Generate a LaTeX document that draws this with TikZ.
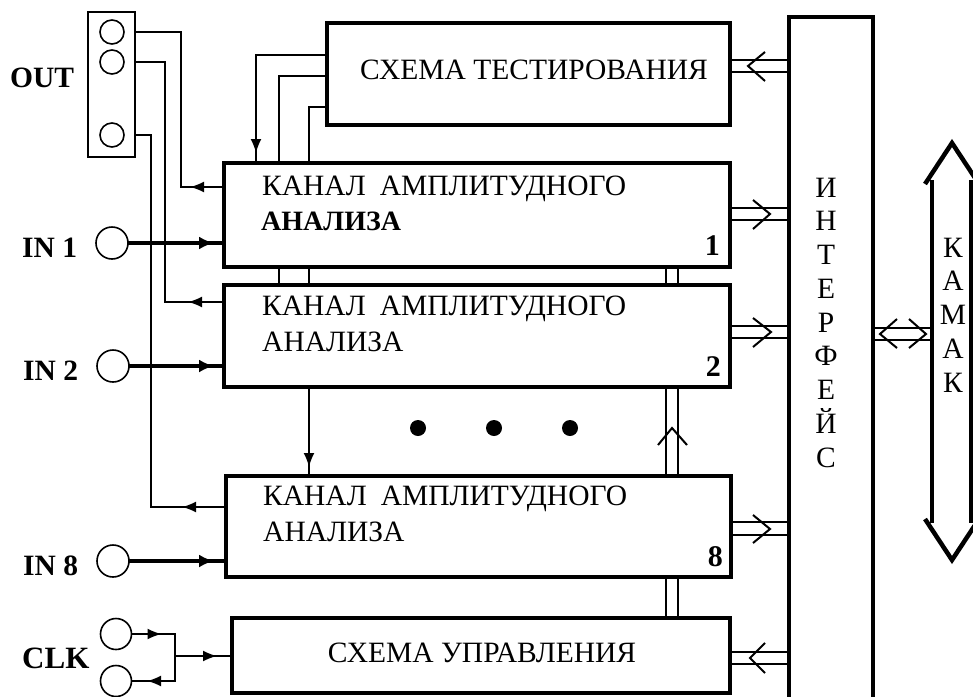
\documentclass[tikz,border=0pt]{standalone}
\usepackage{fontspec}
\setmainfont{Liberation Serif}
\usetikzlibrary{arrows.meta,calc}
\begin{document}
\begin{tikzpicture}[x=1pt,y=-1pt,
  box/.style={draw, line width=4.5pt, inner sep=0pt, outer sep=0pt, anchor=north west},
  thinline/.style={line width=1.8pt},
  thickline/.style={line width=4pt},
  tri/.style={-{Latex[length=14pt,width=11pt]}},
  bigtri/.style={-{Latex[length=15pt,width=13pt]}},
  bus/.style={line width=2pt},
  chev/.style={line width=2pt, line join=miter},
  ring/.style={draw, circle, line width=1.6pt, inner sep=0pt, outer sep=0pt},
  dot/.style={circle, fill, inner sep=0pt, minimum size=16pt},
  lbl/.style={font=\fontsize{29.5}{29.5}\selectfont\bfseries, anchor=base west, inner sep=0pt},
  num/.style={font=\fontsize{30}{30}\selectfont\bfseries, anchor=base east, inner sep=0pt},
  txt/.style={font=\fontsize{29.5}{29.5}\selectfont, anchor=base west, inner sep=0pt},
  ctxt/.style={font=\fontsize{29.5}{29.5}\selectfont, anchor=base, inner sep=0pt},
]
\clip (0,0) rectangle (973,696);

% boxes
\node[box, minimum width=403pt, minimum height=102pt] (test) at (327,23) {};
\node[box, minimum width=506pt, minimum height=104pt] (ch1) at (224,163) {};
\node[box, minimum width=506pt, minimum height=102pt] (ch2) at (224,285) {};
\node[box, minimum width=505pt, minimum height=101pt] (ch8) at (226,476) {};
\node[box, minimum width=498pt, minimum height=75pt] (ctrl) at (232,618) {};
\node[box, minimum width=84pt, minimum height=720pt] (iface) at (789,17) {};

% texts in boxes
\node[ctxt] (testt) at (534,79) {СХЕМА ТЕСТИРОВАНИЯ};
\node[ctxt] (ctrlt) at (482,662) {СХЕМА УПРАВЛЕНИЯ};
\node[txt] (c1a) at (262,195) {КАНАЛ\hspace{14pt}АМПЛИТУДНОГО};
\node[txt, font=\fontsize{28}{28}\selectfont\bfseries] (c1b) at (261,230) {АНАЛИЗА};
\node[num] (n1) at (720,255) {1};
\node[txt] (c2a) at (262,315) {КАНАЛ\hspace{14pt}АМПЛИТУДНОГО};
\node[txt] (c2b) at (262,351) {АНАЛИЗА};
\node[num] (n2) at (721,376) {2};
\node[txt] (c8a) at (263,505) {КАНАЛ\hspace{14pt}АМПЛИТУДНОГО};
\node[txt] (c8b) at (263,541) {АНАЛИЗА};
\node[num] (n8) at (723,566) {8};

\foreach \ch [count=\i] in {И,Н,Т,Е,Р,Ф,Е,Й,С}
  \node[ctxt] (if\i) at (826,{197+33.75*(\i-1)}) {\ch};
\foreach \ch [count=\i] in {К,А,М,А,К}
  \node[ctxt] (km\i) at (953,{257+33.75*(\i-1)}) {\ch};

% OUT connector
\node[draw, line width=1.8pt, inner sep=0pt, outer sep=0pt, anchor=north west,
      minimum width=47pt, minimum height=145pt] (outbox) at (88,12) {};
\node[ring, minimum size=24pt] (oc1) at (112,32) {};
\node[ring, minimum size=24pt] (oc2) at (112,62) {};
\node[ring, minimum size=24pt] (oc3) at (112,135) {};
\node[lbl] (outl) at (10,87) {OUT};

% inputs
\node[ring, minimum size=32pt] (in1) at (112,243) {};
\node[ring, minimum size=32pt] (in2) at (113,366) {};
\node[ring, minimum size=32pt] (in8) at (113,561) {};
\node[lbl] (in1l) at (22,257) {IN 1};
\node[lbl] (in2l) at (23,380) {IN 2};
\node[lbl] (in8l) at (23,575) {IN 8};
\node[ring, minimum size=31pt] (clk1) at (116,634) {};
\node[ring, minimum size=31pt] (clk2) at (116,681) {};
\node[lbl, font=\fontsize{31}{31}\selectfont\bfseries] (clkl) at (22,668) {CLK};

% channel outputs to OUT connector
\coordinate (o1) at ($(ch1.north west)+(0,24)$);
\coordinate (o2) at ($(ch2.north west)+(0,17)$);
\coordinate (o8) at ($(ch8.north west)+(0,31)$);
\draw[thinline] (o1) -- ++(-43,0) |- (oc1 -| outbox.east);
\draw[thinline,tri] (o1) -- ++(-34,0);
\draw[thinline] (o2) -- ++(-59,0) |- (oc2 -| outbox.east);
\draw[thinline,tri] (o2) -- ++(-36,0);
\draw[thinline] (o8) -- ++(-75,0) |- (oc3 -| outbox.east);
\draw[thinline,tri] (o8) -- ++(-44,0);

% input lines
\draw[thickline] (in1.east) -- (in1.east -| ch1.west);
\draw[thickline,bigtri] (in1.east) -- ($(in1.east -| ch1.west)+(-10,0)$);
\draw[thickline] (in2.east) -- (in2.east -| ch2.west);
\draw[thickline,bigtri] (in2.east) -- ($(in2.east -| ch2.west)+(-10,0)$);
\draw[thickline] (in8.east) -- (in8.east -| ch8.west);
\draw[thickline,bigtri] (in8.east) -- ($(in8.east -| ch8.west)+(-12,0)$);

% test box to channels
\coordinate (t1) at ($(test.north west)+(0,32)$);
\coordinate (t2) at ($(test.north west)+(0,53)$);
\coordinate (t3) at ($(test.north west)+(0,84)$);
\coordinate (v1) at ($(ch1.north west)+(32,0)$);
\coordinate (v2) at ($(ch1.north west)+(55,0)$);
\coordinate (v3) at ($(ch1.north west)+(85,0)$);
\draw[thinline] (t1) -| (v1);
\draw[thinline,tri] ($(v1)+(0,-30)$) -- ($(v1)+(0,-10)$);
\draw[thinline] (t2) -| (v2);
\draw[thinline] (t3) -| (v3);
\draw[thinline] (v2 |- ch1.south) -- (v2 |- ch2.north);
\draw[thinline] (v3 |- ch1.south) -- (v3 |- ch2.north);
\draw[thinline] (v3 |- ch2.south) -- (v3 |- ch8.north);
\draw[thinline,tri] ($(v3 |- ch8.north)+(0,-30)$) -- ($(v3 |- ch8.north)+(0,-9)$);

% vertical bus
\coordinate (bx1) at (666,0);
\coordinate (bx2) at (678,0);
\draw[bus] (bx1 |- ch1.south) -- (bx1 |- ch2.north);
\draw[bus] (bx2 |- ch1.south) -- (bx2 |- ch2.north);
\draw[bus] (bx1 |- ch2.south) -- (bx1 |- ch8.north);
\draw[bus] (bx2 |- ch2.south) -- (bx2 |- ch8.north);
\draw[bus] (bx1 |- ch8.south) -- (bx1 |- ctrl.north);
\draw[bus] (bx2 |- ch8.south) -- (bx2 |- ctrl.north);
\draw[chev] (658,445) -- (672,428) -- (687,445);

% horizontal buses to interface
\coordinate (hb0a) at (test.east |- 0,60);
\coordinate (hb0b) at (test.east |- 0,72);
\draw[bus] (hb0a) -- (hb0a -| iface.west);
\draw[bus] (hb0b) -- (hb0b -| iface.west);
\draw[chev] (765,52) -- (748,66) -- (765,81);

\coordinate (hb1a) at (ch1.east |- 0,208);
\coordinate (hb1b) at (ch1.east |- 0,220);
\draw[bus] (hb1a) -- (hb1a -| iface.west);
\draw[bus] (hb1b) -- (hb1b -| iface.west);
\draw[chev] (753,200) -- (770,214) -- (753,229);

\coordinate (hb2a) at (ch2.east |- 0,326);
\coordinate (hb2b) at (ch2.east |- 0,338);
\draw[bus] (hb2a) -- (hb2a -| iface.west);
\draw[bus] (hb2b) -- (hb2b -| iface.west);
\draw[chev] (753,318) -- (771,332) -- (753,347);

\coordinate (hb8a) at (ch8.east |- 0,522);
\coordinate (hb8b) at (ch8.east |- 0,535);
\draw[bus] (hb8a) -- (hb8a -| iface.west);
\draw[bus] (hb8b) -- (hb8b -| iface.west);
\draw[chev] (753,515) -- (770,529) -- (753,543);

\coordinate (hbca) at (ctrl.east |- 0,652);
\coordinate (hbcb) at (ctrl.east |- 0,664);
\draw[bus] (hbca) -- (hbca -| iface.west);
\draw[bus] (hbcb) -- (hbcb -| iface.west);
\draw[chev] (765,643) -- (750,658) -- (765,673);

% interface to KAMAK
\coordinate (hbka) at (iface.east |- 0,328);
\coordinate (hbkb) at (iface.east |- 0,340);
\draw[bus] (hbka) -- (932,328);
\draw[bus] (hbkb) -- (932,340);
\draw[chev] (897,319) -- (880,334) -- (897,348);
\draw[chev] (909,319) -- (926,334) -- (909,348);

% KAMAK double arrow
\draw[line width=4.5pt, line join=miter] (925,184) -- (952,143) -- (979,184);
\draw[line width=4.5pt, line join=miter] (925,519) -- (952,560) -- (979,519);
\draw[line width=4.5pt] (932,180) -- (932,523);
\draw[line width=4.5pt] (971,180) -- (971,523);

% dots
\node[dot] (d1) at (418,428) {};
\node[dot] (d2) at (494,428) {};
\node[dot] (d3) at (570,428) {};

% CLK
\coordinate (jn) at (175,656);
\draw[thinline] (clk1.east) -| (jn);
\draw[thinline] (jn) |- (clk2.east);
\draw[thinline] (jn) -- (jn -| ctrl.west);
\draw[thinline,tri] (clk1.east) -- ++(30,0);
\draw[thinline,tri] (clk2.east -| jn) -- ++(-28,0);
\draw[thinline,tri] (jn) -- ++(42,0);
\end{tikzpicture}
\end{document}
